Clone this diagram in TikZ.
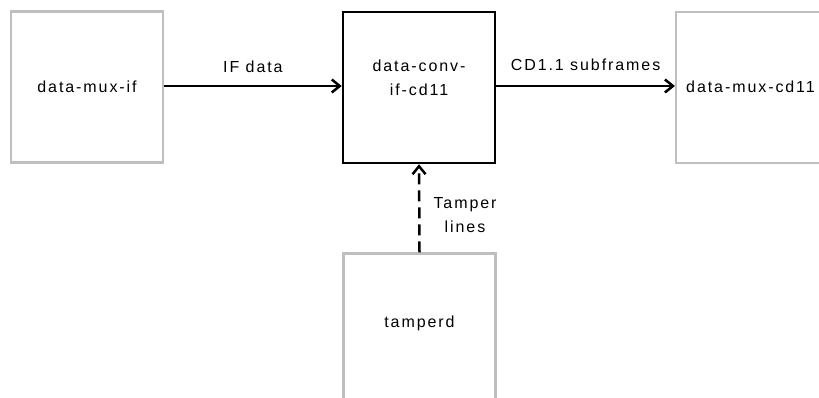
\documentclass[tikz,border=0pt]{standalone}
\usepackage{fontspec}
\setmainfont{Liberation Sans}[LetterSpace=12]
\usetikzlibrary{arrows.meta}
\begin{document}
\begin{tikzpicture}[x=1pt,y=-1pt,
  txt/.style={font=\fontsize{16}{20}\selectfont, text=black},
  greybox/.style={draw=black!25, line width=2.2pt, minimum width=152pt, minimum height=151pt, inner sep=0pt, align=center, txt},
  blackbox/.style={draw=black, line width=2.5pt, minimum width=152pt, minimum height=151pt, inner sep=0pt, align=center, txt},
  conn/.style={line width=2.5pt, -{Straight Barb[length=8pt,width=13pt,line width=2.5pt]}},
  lbl/.style={txt, align=center, inner sep=0pt}
]
\useasboundingbox (0,0) rectangle (819,398);
\node[greybox] (mif) at (87,87) {data-mux-if};
\node[blackbox] (conv) at (419,87.5) {};
\node[lbl] at (419,78) {data-conv-\\[4pt]if-cd11};
\node[greybox] (mcd) at (752,87.5) {};
\node[lbl, anchor=west] at (686,87) {data-mux-cd11};
\node[greybox] (tmp) at (419.5,329) {};
\node[lbl] at (419.5,323) {tamperd};
\draw[conn] (mif.east |- 0,86) -- node[lbl, above=12pt] {IF data} (conv.west |- 0,86);
\draw[conn] (conv.east |- 0,86) -- node[lbl, above=14pt] {CD1.1 subframes} (mcd.west |- 0,86);
\draw[conn, dash pattern=on 11pt off 6pt] (tmp.north) -- (conv.south);
\node[lbl] at (465,215) {Tamper\\[4pt]lines};
\end{tikzpicture}
\end{document}
